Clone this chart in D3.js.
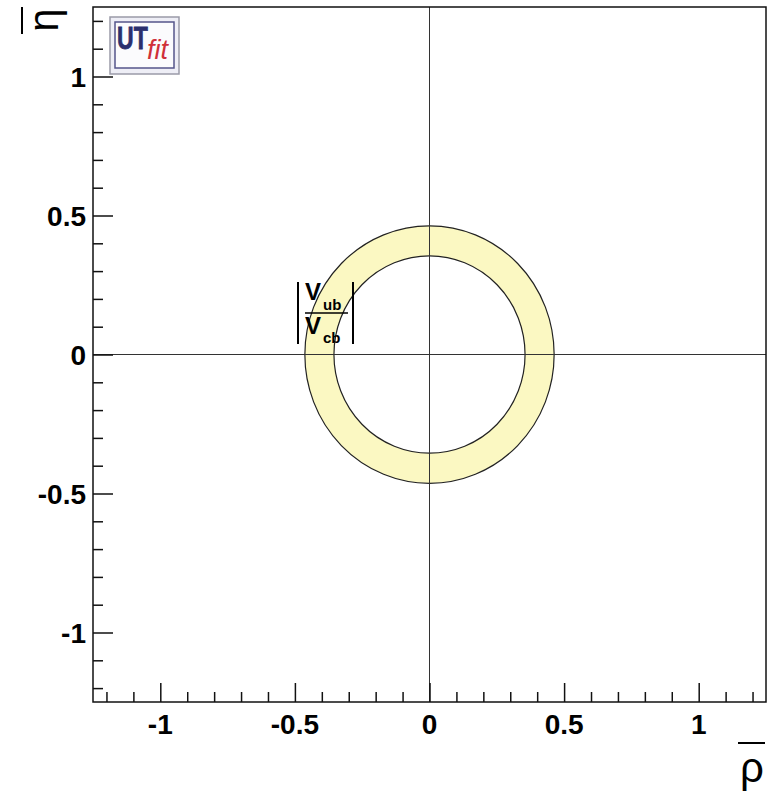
<!DOCTYPE html>
<html>
<head>
<meta charset="utf-8">
<script src="https://cdn.jsdelivr.net/npm/d3@7"></script>
<style>
  body { margin: 0; background: #fff; }
  svg { display: block; }
  text { font-family: "Liberation Sans", Arial, Helvetica, sans-serif; }
</style>
</head>
<body>
<svg id="chart" width="771" height="794"></svg>
<script>
// ---- data ----
const xDomain = [-1.25, 1.25];
const yDomain = [-1.25, 1.25];
const majorTicks = [-1, -0.5, 0, 0.5, 1];
const majorTickLabels = ["-1", "-0.5", "0", "0.5", "1"];
const minorTicks = [-1.2, -1.1, -0.9, -0.8, -0.7, -0.6, -0.4, -0.3, -0.2, -0.1,
                    0.1, 0.2, 0.3, 0.4, 0.6, 0.7, 0.8, 0.9, 1.1, 1.2];
const ringCenter = [0, 0];
const ringInner = [0.355];
const ringOuter = [0.463];

// ---- layout ----
const svg = d3.select("#chart");
const L = 93, R = 766, T = 7, B = 702;
const x = d3.scaleLinear().domain(xDomain).range([L, R]);
const y = d3.scaleLinear().domain(yDomain).range([B, T]);

// ring (ellipse in pixel space because scales differ slightly)
const ring = svg.append("g");
const cx = x(ringCenter[0]), cy = y(ringCenter[1]);
const rxO = x(ringOuter[0]) - x(0), ryO = y(0) - y(ringOuter[0]);
const rxI = x(ringInner[0]) - x(0), ryI = y(0) - y(ringInner[0]);
function ellipsePath(rx, ry) {
  return `M${cx - rx},${cy} a${rx},${ry} 0 1,0 ${2*rx},0 a${rx},${ry} 0 1,0 ${-2*rx},0 Z`;
}
ring.append("path")
  .attr("d", ellipsePath(rxO, ryO) + ellipsePath(rxI, ryI))
  .attr("fill", "#fbf8c2")
  .attr("fill-rule", "evenodd")
  .attr("stroke", "none");
ring.append("path").attr("d", ellipsePath(rxO, ryO)).attr("fill", "none").attr("stroke", "#222").attr("stroke-width", 1.2);
ring.append("path").attr("d", ellipsePath(rxI, ryI)).attr("fill", "none").attr("stroke", "#222").attr("stroke-width", 1.2);

// crosshair
svg.append("line").attr("x1", L).attr("x2", R).attr("y1", y(0)).attr("y2", y(0))
  .attr("stroke", "#333").attr("stroke-width", 1);
svg.append("line").attr("x1", x(0)).attr("x2", x(0)).attr("y1", T).attr("y2", B)
  .attr("stroke", "#333").attr("stroke-width", 1);

// frame
svg.append("rect").attr("x", L).attr("y", T).attr("width", R - L).attr("height", B - T)
  .attr("fill", "none").attr("stroke", "#111").attr("stroke-width", 1.5);

// axes via d3
const xMajor = d3.axisTop(x).tickValues(majorTicks).tickSize(19).tickFormat("");
const xMinor = d3.axisTop(x).tickValues(minorTicks).tickSize(10).tickFormat("");
const yMajor = d3.axisRight(y).tickValues(majorTicks).tickSize(20).tickFormat("");
const yMinor = d3.axisRight(y).tickValues(minorTicks).tickSize(10).tickFormat("");
[[xMajor, `translate(0,${B})`], [xMinor, `translate(0,${B})`],
 [yMajor, `translate(${L},0)`], [yMinor, `translate(${L},0)`]].forEach(([ax, tr]) => {
  const g = svg.append("g").attr("transform", tr).call(ax);
  g.select(".domain").remove();
  g.selectAll(".tick line").attr("stroke", "#111").attr("stroke-width", 1.5);
});

// tick labels
svg.append("g").selectAll("text").data(majorTicks).join("text")
  .attr("x", d => x(d)).attr("y", 734)
  .attr("text-anchor", "middle")
  .attr("font-size", 28).attr("font-weight", "bold").attr("fill", "#000")
  .text((d, i) => majorTickLabels[i]);
svg.append("g").selectAll("text").data(majorTicks).join("text")
  .attr("x", 86).attr("y", d => y(d) + 10)
  .attr("text-anchor", "end")
  .attr("font-size", 28).attr("font-weight", "bold").attr("fill", "#000")
  .text((d, i) => majorTickLabels[i]);

// axis titles
svg.append("text").attr("x", 752).attr("y", 782).attr("text-anchor", "middle")
  .attr("font-size", 42).attr("fill", "#000").text("ρ");
svg.append("line").attr("x1", 738).attr("x2", 765).attr("y1", 743).attr("y2", 743)
  .attr("stroke", "#000").attr("stroke-width", 2);
svg.append("text").attr("transform", "translate(58,20) rotate(-90)")
  .attr("text-anchor", "middle")
  .attr("font-size", 42).attr("fill", "#000").text("η");
svg.append("line").attr("x1", 22).attr("x2", 22).attr("y1", 7).attr("y2", 34)
  .attr("stroke", "#000").attr("stroke-width", 2);

// |Vub/Vcb| label
const lab = svg.append("g");
lab.append("line").attr("x1", 298).attr("x2", 298).attr("y1", 282).attr("y2", 344).attr("stroke", "#000").attr("stroke-width", 2);
lab.append("line").attr("x1", 353).attr("x2", 353).attr("y1", 282).attr("y2", 344).attr("stroke", "#000").attr("stroke-width", 2);
lab.append("line").attr("x1", 305).attr("x2", 348).attr("y1", 313).attr("y2", 313).attr("stroke", "#000").attr("stroke-width", 1.5);
lab.append("text").attr("x", 305).attr("y", 300).attr("font-size", 24).attr("font-weight", "bold").text("V");
lab.append("text").attr("x", 323).attr("y", 310).attr("font-size", 15).attr("font-weight", "bold").text("ub");
lab.append("text").attr("x", 305).attr("y", 334).attr("font-size", 24).attr("font-weight", "bold").text("V");
lab.append("text").attr("x", 323).attr("y", 343).attr("font-size", 15).attr("font-weight", "bold").text("cb");

// UTfit logo
const logo = svg.append("g");
logo.append("rect").attr("x", 110).attr("y", 17).attr("width", 69).attr("height", 57)
  .attr("fill", "#eeeef6").attr("stroke", "#9a9aa8").attr("stroke-width", 1.5);
logo.append("rect").attr("x", 115).attr("y", 22).attr("width", 59).attr("height", 46)
  .attr("fill", "#fbfbfd").attr("stroke", "#55558a").attr("stroke-width", 1.5);
logo.append("text").attr("transform", "translate(117,49) scale(0.72,1)")
  .attr("font-size", 32).attr("font-weight", "bold")
  .attr("fill", "#2a2f6e").attr("stroke", "#2a2f6e").attr("stroke-width", 0.8).text("UT");
logo.append("text").attr("x", 147).attr("y", 59).attr("font-size", 27).attr("font-style", "italic")
  .attr("font-family", "'Liberation Serif', serif").attr("fill", "#d0303a").text("fit");
</script>
</body>
</html>
